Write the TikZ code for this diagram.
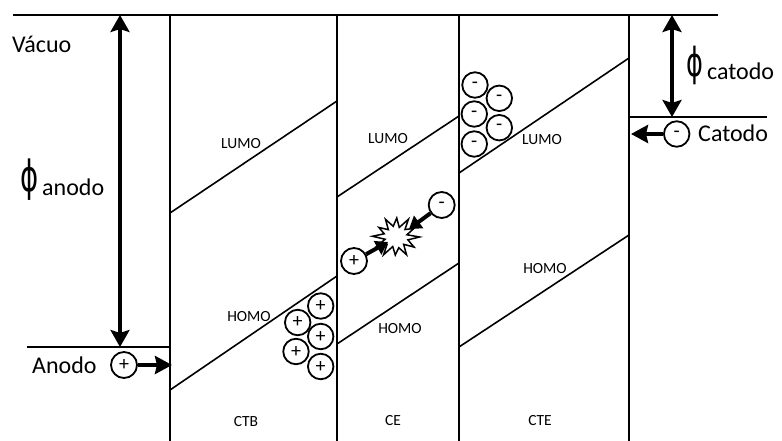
\documentclass[tikz,border=0pt]{standalone}
\usepackage{fontspec}
\setmainfont{Carlito}
\newfontfamily\phifont{DejaVu Sans}
\usetikzlibrary{arrows.meta}

\tikzset{
  wall/.style={line width=1.8pt},
  level/.style={line width=1.6pt},
  gap/.style={line width=3.3pt,
    {Stealth[length=17pt,width=19pt,inset=3pt]}-{Stealth[length=17pt,width=19pt,inset=3pt]}},
  inject/.style={line width=3.8pt, -{Stealth[length=17pt,width=18pt,inset=2pt]}},
  push/.style={line width=4pt, -{Triangle[length=12pt,width=15pt]}},
  charge/.style={circle, draw, line width=1.8pt, minimum size=25.5pt, inner sep=0pt,
    font=\fontsize{20}{20}\selectfont},
  big/.style={font=\fontsize{24}{28}\selectfont, inner sep=0pt},
  small/.style={font=\fontsize{15.5}{18}\selectfont, inner sep=0pt},
  phisym/.style={inner sep=0pt, anchor=base west},
}
\newcommand{\workphi}[1]{\scalebox{0.64}[1]{\fontsize{#1}{#1}\phifont ϕ}}

\begin{document}
\begin{tikzpicture}[x=1pt,y=-1pt]
\useasboundingbox (0,0) rectangle (782,441);

% vacuum level
\coordinate (vacL) at (13,15);
\coordinate (vacR) at (718,15);
\draw[wall] (vacL) -- (vacR);

% layer boundaries
\foreach \n/\x in {w1/170, w2/337, w3/459, w4/629}{
  \coordinate (\n t) at (\x,15);
  \coordinate (\n b) at (\x,441);
  \draw[wall] (\n t) -- (\n b);
}

% electrode Fermi levels
\coordinate (anL) at (27,347);  \coordinate (anR) at (170,347);
\coordinate (caL) at (629,117); \coordinate (caR) at (767,117);
\draw[wall] (anL) -- (anR);
\draw[wall] (caL) -- (caR);

% LUMO / HOMO levels of each layer
\draw[level] (170,213) -- (337,101);
\draw[level] (170,390) -- (337,276);
\draw[level] (337,197) -- (459,116);
\draw[level] (337,344) -- (459,263);
\draw[level] (459,173) -- (629,58);
\draw[level] (459,347) -- (629,235);

% level labels
\node[small] (lumo1) at (241,144) {LUMO};
\node[small] (lumo2) at (388,139) {LUMO};
\node[small] (lumo3) at (542,140) {LUMO};
\node[small] (homo1) at (249,317) {HOMO};
\node[small] (homo2) at (400,329) {HOMO};
\node[small] (homo3) at (545,269) {HOMO};
\node[small] (ctb) at (246,422) {CTB};
\node[small] (ce)  at (393,421) {CE};
\node[small] (cte) at (540,421) {CTE};

% electrode labels
\node[big, anchor=base west] (vac) at (12,53) {Vácuo};
\node[big, anchor=base west] (anodo) at (32,373) {Anodo};
\node[big, anchor=base west] (catodo) at (698,141.5) {Catodo};

% work functions
\coordinate (phiAt) at (120,15);  \coordinate (phiAb) at (120,347);
\coordinate (phiCt) at (672,15);  \coordinate (phiCb) at (672,117);
\draw[gap] (phiAt) -- (phiAb);
\draw[gap] (phiCt) -- (phiCb);
\node[phisym] (phiA) at (20,191) {\workphi{43}};
\node[big, anchor=base west] (phiAsub) at (42,195) {anodo};
\node[phisym] (phiC) at (686,77) {\workphi{40}};
\node[big, anchor=base west] (phiCsub) at (707,80) {catodo};

% injected carriers
\node[charge, minimum size=26pt] (hin) at (124,365) {+};
\node[charge] (ein) at (676.7,134) {-};
\coordinate (hinT) at (172,365);
\coordinate (einT) at (631,134);
\draw[inject] (hin) -- (hinT);
\draw[inject] (ein) -- (einT);

% accumulated holes
\foreach \n/\x/\y in {h1/320.7/306, h2/297.7/322.5, h3/320.7/336.5, h4/296/351.5, h5/320.7/366.5}
  \node[charge] (\n) at (\x,\y) {+};

% accumulated electrons
\foreach \n/\x/\y in {e1/475/85, e2/499.3/98.3, e3/474.3/114, e4/499.3/127.7, e5/474.3/144}
  \node[charge] (\n) at (\x,\y) {-};

% recombination flash
\begin{scope}[shift={(396,237)}, xscale=1.12]
  \draw[line width=1.5pt, fill=white, line join=miter]
    (0:21) -- (15:11) -- (32:19) -- (47:10) -- (62:20) -- (77:11) -- (92:18) --
    (107:10) -- (122:21) -- (137:11) -- (152:19) -- (167:10) -- (182:21) --
    (197:11) -- (212:18) -- (227:10) -- (242:20) -- (257:11) -- (272:19) --
    (287:10) -- (302:21) -- (317:11) -- (332:18) -- (347:10) -- cycle;
\end{scope}
\coordinate (bangW) at (388,242);
\coordinate (bangE) at (409,229);
\node[charge, minimum size=26pt] (hce) at (354,261) {+};
\node[charge, minimum size=26pt] (ece) at (441.7,205) {-};
\draw[push] (hce) -- (bangW);
\draw[push] (ece) -- (bangE);
\end{tikzpicture}
\end{document}
